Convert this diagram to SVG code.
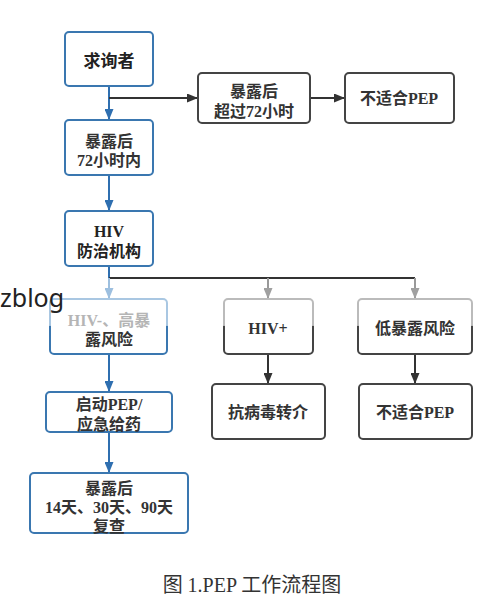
<svg xmlns="http://www.w3.org/2000/svg" width="500" height="596" viewBox="0 0 500 596">
<defs>
<style>
.t{font-family:"Liberation Serif","Noto Sans CJK SC",serif;font-size:16px;font-weight:600;fill:#333;text-anchor:middle}
.bb{fill:#fff;stroke:#3a77b0;stroke-width:2}
.gb{fill:#fff;stroke:#444;stroke-width:2}
.cb{fill:none;stroke:#2f6fb0;stroke-width:2}
.cd{fill:none;stroke:#333;stroke-width:2}
.cg{fill:none;stroke:#999;stroke-width:2}
.cl{fill:none;stroke:#9dbfdf;stroke-width:2}
</style>
<marker id="ab" viewBox="0 0 11 9" refX="11" refY="4.5" markerWidth="11" markerHeight="9" markerUnits="userSpaceOnUse" orient="auto"><path d="M0,0 L11,4.5 L0,9 z" fill="#2f6fb0"/></marker>
<marker id="ad" viewBox="0 0 11 9" refX="11" refY="4.5" markerWidth="11" markerHeight="9" markerUnits="userSpaceOnUse" orient="auto"><path d="M0,0 L11,4.5 L0,9 z" fill="#333"/></marker>
<marker id="ag" viewBox="0 0 11 9" refX="11" refY="4.5" markerWidth="11" markerHeight="9" markerUnits="userSpaceOnUse" orient="auto"><path d="M0,0 L11,4.5 L0,9 z" fill="#a0a0a0"/></marker>
<marker id="al" viewBox="0 0 11 9" refX="11" refY="4.5" markerWidth="11" markerHeight="9" markerUnits="userSpaceOnUse" orient="auto"><path d="M0,0 L11,4.5 L0,9 z" fill="#9dbfdf"/></marker>
<linearGradient id="gl" x1="0" y1="0" x2="0" y2="1"><stop offset="0" stop-color="#a9c7e2"/><stop offset="0.48" stop-color="#a9c7e2"/><stop offset="0.5" stop-color="#3a77b0"/><stop offset="1" stop-color="#3a77b0"/></linearGradient>
<linearGradient id="gg" x1="0" y1="0" x2="0" y2="1"><stop offset="0" stop-color="#bbb"/><stop offset="0.48" stop-color="#bbb"/><stop offset="0.5" stop-color="#444"/><stop offset="1" stop-color="#444"/></linearGradient>
</defs>
<rect width="500" height="596" fill="#fff"/>
<g id="connectors">
<path class="cb" d="M109,86 V120" marker-end="url(#ab)"/>
<path class="cd" d="M109,98 H198" marker-end="url(#ad)"/>
<path class="cd" d="M310,98 H345" marker-end="url(#ad)"/>
<path class="cb" d="M109,175 V211" marker-end="url(#ab)"/>
<path class="cb" d="M109,266 V278"/>
<path class="cd" d="M109,278 H415"/>
<path class="cl" d="M109,278 V299" marker-end="url(#al)"/>
<path class="cg" d="M268,278 V299" marker-end="url(#ag)"/>
<path class="cg" d="M415,278 V299" marker-end="url(#ag)"/>
<path class="cb" d="M109,354 V392" marker-end="url(#ab)"/>
<path class="cd" d="M268,354 V384" marker-end="url(#ad)"/>
<path class="cd" d="M415,354 V384" marker-end="url(#ad)"/>
<path class="cb" d="M109,432 V473" marker-end="url(#ab)"/>
</g>
<g id="n1"><rect class="bb" x="65" y="32" width="88" height="54" rx="4"/><text class="t" x="109" y="67" style="font-size:17px;font-weight:700;fill:#222">求询者</text></g>
<g id="n2"><rect class="bb" x="65" y="120" width="88" height="55" rx="4"/><text class="t" x="109" y="147">暴露后</text><text class="t" x="109" y="166">72小时内</text></g>
<g id="n3"><rect class="gb" x="198" y="73" width="112" height="50" rx="4"/><text class="t" x="254" y="97">暴露后</text><text class="t" x="254" y="117">超过72小时</text></g>
<g id="n4"><rect class="gb" x="345" y="73" width="109" height="50" rx="4"/><text class="t" x="399" y="104">不适合PEP</text></g>
<g id="n5"><rect class="bb" x="65" y="211" width="88" height="55" rx="4"/><text class="t" x="109" y="237" style="font-weight:700;fill:#222">HIV</text><text class="t" x="109" y="257" style="font-weight:700;fill:#222">防治机构</text></g>
<g id="n6"><rect x="50" y="299" width="117" height="55" rx="4" fill="#fff" stroke="url(#gl)" stroke-width="2"/><text class="t" x="109" y="326" style="fill:#b5b5b5">HIV-、高暴</text><text class="t" x="109" y="345">露风险</text></g>
<g id="n7"><rect x="224" y="299" width="89" height="55" rx="4" fill="#fff" stroke="url(#gg)" stroke-width="2"/><text class="t" x="268" y="334">HIV+</text></g>
<g id="n8"><rect x="358" y="299" width="114" height="55" rx="4" fill="#fff" stroke="url(#gg)" stroke-width="2"/><text class="t" x="415" y="334">低暴露风险</text></g>
<g id="n9"><rect class="bb" x="46" y="392" width="126" height="40" rx="4"/><text class="t" x="109" y="410">启动PEP/</text><text class="t" x="109" y="430">应急给药</text></g>
<g id="n10"><rect class="gb" x="212" y="384" width="113" height="55" rx="4"/><text class="t" x="268" y="418">抗病毒转介</text></g>
<g id="n11"><rect class="gb" x="359" y="384" width="113" height="55" rx="4"/><text class="t" x="415" y="418">不适合PEP</text></g>
<g id="n12"><rect class="bb" x="30" y="473" width="158" height="60" rx="4"/><text class="t" x="109" y="494">暴露后</text><text class="t" x="109" y="513">14天、30天、90天</text><text class="t" x="109" y="532">复查</text></g>
<text x="252" y="592" style="font-family:'Liberation Serif','Noto Sans CJK SC',serif;font-size:20px;fill:#333;text-anchor:middle">图 1.PEP 工作流程图</text>
<text x="0" y="307" style="font-family:'Noto Sans',sans-serif;font-size:25px;fill:#222">zblog</text>
</svg>
